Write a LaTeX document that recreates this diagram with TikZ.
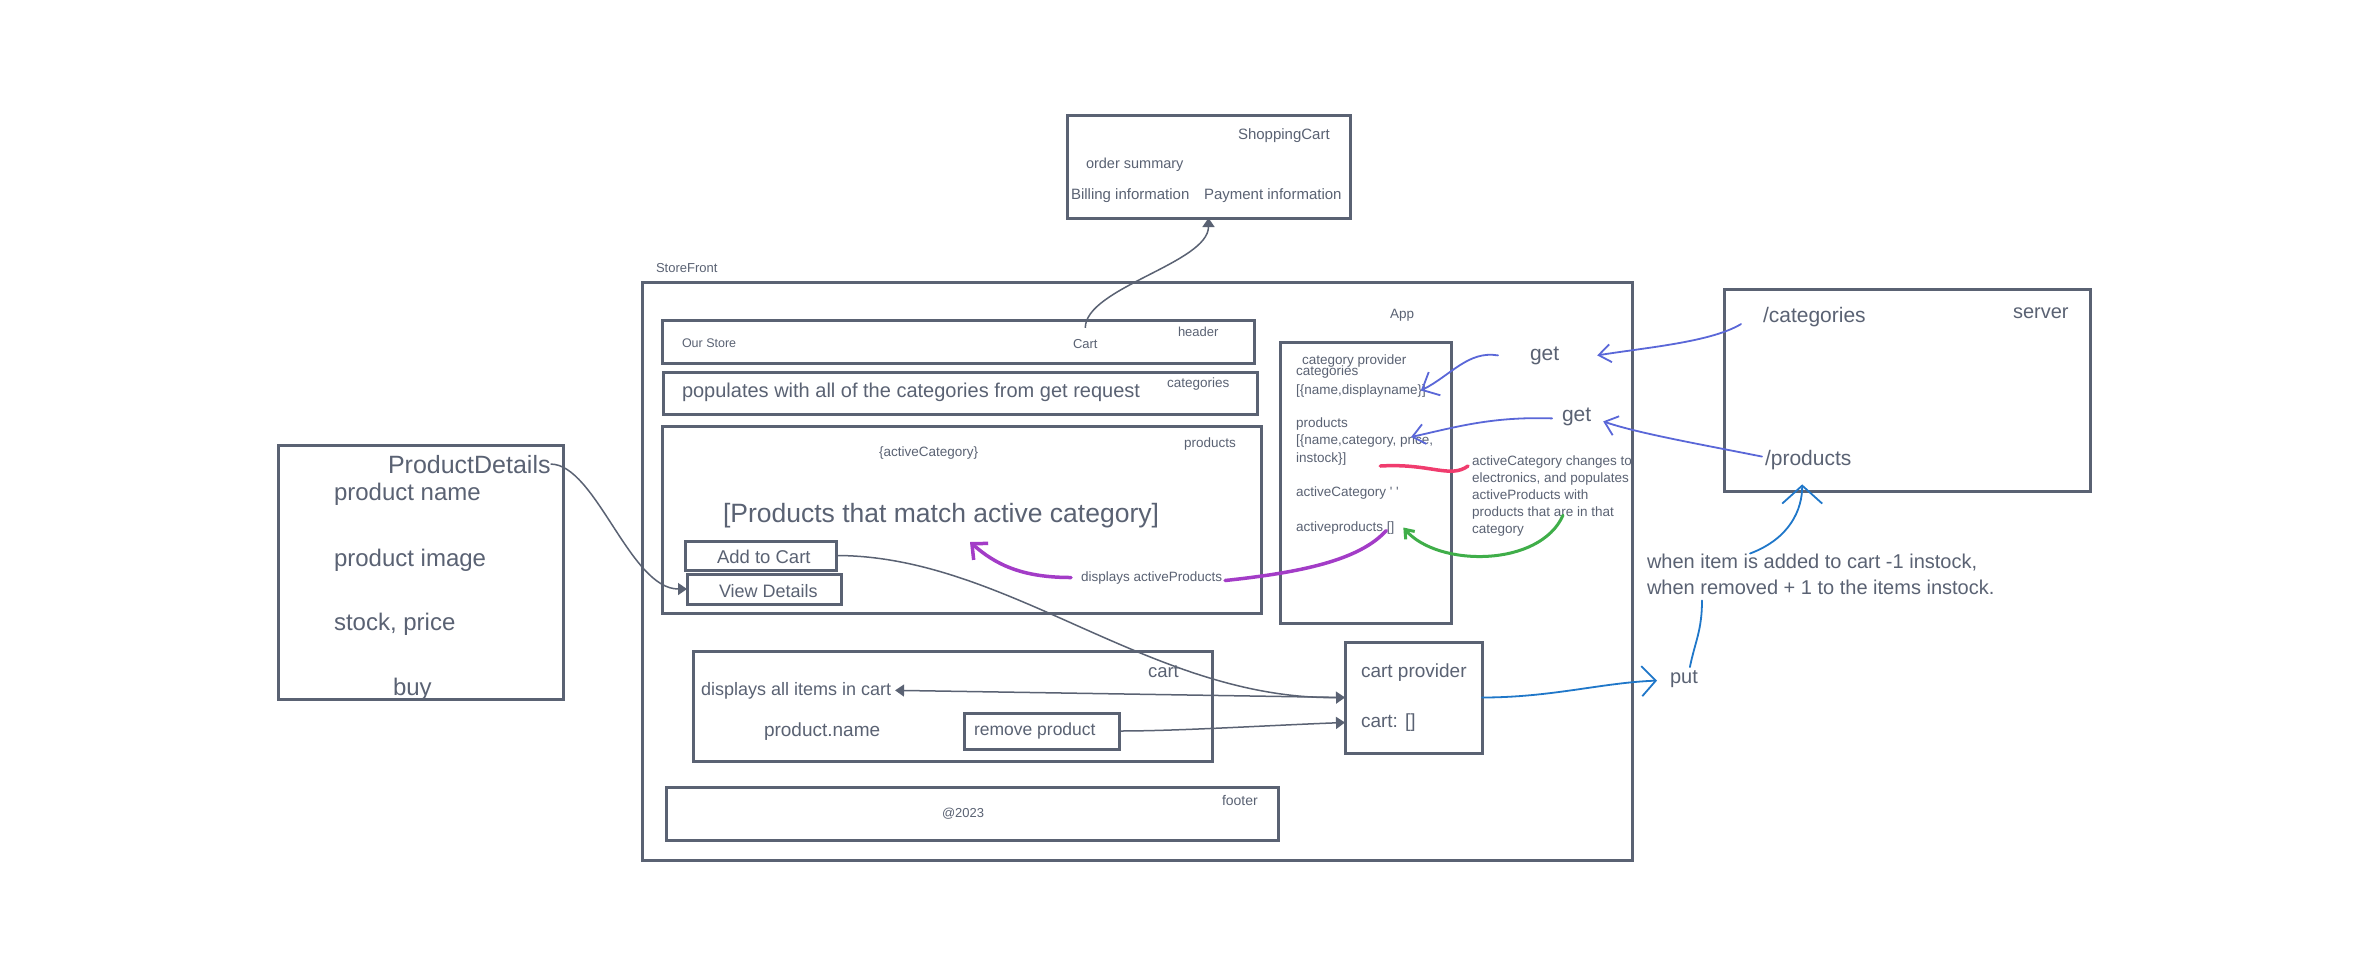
\documentclass[tikz,border=0pt]{standalone}
\usepackage{fontspec}
\setmainfont{Liberation Sans}
\usetikzlibrary{arrows.meta}
\definecolor{ink}{RGB}{90,98,115}
\definecolor{peri}{RGB}{90,103,216}
\definecolor{azure}{RGB}{31,119,201}
\definecolor{mag}{RGB}{163,60,199}
\definecolor{grn}{RGB}{63,174,73}
\definecolor{rd}{RGB}{240,60,110}
\begin{document}
\begin{tikzpicture}[x=1pt,y=-1pt,
  box/.style={draw=ink, line width=3pt, inner sep=0pt, outer sep=0pt},
  txt/.style={inner sep=0pt, outer sep=0pt, anchor=base west, text=ink, font=\fontsize{#1}{#1}\selectfont},
  txt/.default=13.5,
  conn/.style={draw=ink, line width=1.5pt},
  tri/.style={-{Triangle[length=9pt,width=12pt]}},
  hand/.style={line width=#1, line cap=round, line join=round},
]
\fill[white] (0,0) rectangle (2369,975);
\useasboundingbox (0,0) rectangle (2369,975);

% boxes
\node[box, minimum width=283pt, minimum height=103pt] (shop) at (1208.5,166.5) {};
\node[box, minimum width=990pt, minimum height=578pt] (store) at (1137,571) {};
\node[box, minimum width=592pt, minimum height=43pt] (header) at (958,341.5) {};
\node[box, minimum width=594pt, minimum height=42pt] (cats) at (960,393) {};
\node[box, minimum width=599pt, minimum height=187pt] (prods) at (961.5,519.5) {};
\node[box, minimum width=151pt, minimum height=29pt] (addcart) at (760.5,555.5) {};
\node[box, minimum width=154pt, minimum height=30pt] (viewdet) at (764,589) {};
\node[box, minimum width=171pt, minimum height=281pt] (app) at (1365.5,482.5) {};
\node[box, minimum width=366pt, minimum height=202pt] (server) at (1907,390) {};
\node[box, minimum width=285pt, minimum height=254pt] (pdet) at (420.5,572) {};
\node[box, minimum width=519pt, minimum height=110pt] (cartbox) at (952.5,706) {};
\node[box, minimum width=155pt, minimum height=36pt] (remove) at (1041.5,731) {};
\node[box, minimum width=137pt, minimum height=111pt] (cartprov) at (1413.5,697.5) {};
\node[box, minimum width=612pt, minimum height=53pt] (footer) at (972,813.5) {};

% ShoppingCart
\node[txt=15] (tshop) at (1238,139) {ShoppingCart};
\node[txt=14.5] (tord) at (1086,168) {order summary};
\node[txt=15] (tbill) at (1071,199) {Billing information};
\node[txt=15] (tpay) at (1204,199) {Payment information};

% StoreFront
\node[txt=13] (tsf) at (656,272) {StoreFront};
\node[txt=12.5] (tours) at (682,347) {Our Store};
\node[txt=13] (tcart) at (1073,348) {Cart};
\node[txt=13] (thead) at (1178,336) {header};
\node[txt=20] (tpop) at (682,397) {populates with all of the categories from get request};
\node[txt=13.5] (tcatl) at (1167,387) {categories};
\node[txt=13.5] (tac) at (879,456) {\{activeCategory\}};
\node[txt=13.5] (tprodl) at (1184,447) {products};
\node[txt=26.5] (tpm) at (723,522) {[Products that match active category]};
\node[txt=18.5] (taddc) at (717,563) {Add to Cart};
\node[txt=18] (tview) at (719,597) {View Details};
\node[txt=13.5] (tdap) at (1081,581) {displays activeProducts};

% App
\node[txt=13.5] (tapp) at (1390,318) {App};
\node[txt=13.5] (tcp) at (1302,364) {category provider};
\node[txt=13.5] (tcats2) at (1296,375) {categories};
\node[txt=13.5] (tdn) at (1296,394) {[\{name,displayname\}]};
\node[txt=13.5] (tprods2) at (1296,427) {products};
\node[txt=13.5] (tprice) at (1296,444) {[\{name,category, price,};
\node[txt=13.5] (tinst) at (1296,462) {instock\}]};
\node[txt=13.5] (tacat) at (1296,496) {activeCategory \textquotesingle\ \textquotesingle};
\node[txt=13.5] (tap) at (1296,531) {activeproducts []};
\node[inner sep=0pt, outer sep=0pt, anchor=north west, align=left, text=ink,
      font=\fontsize{13.5}{17}\selectfont] (tnote) at (1472,456)
  {activeCategory changes to\\electronics, and populates\\activeProducts with\\products that are in that\\category};

% get / server
\node[txt=21] (tget1) at (1530,360) {get};
\node[txt=21] (tget2) at (1562,421) {get};
\node[txt=21] (tscat) at (1763,322) {/categories};
\node[txt=20] (tserv) at (2013,318) {server};
\node[txt=21] (tsprod) at (1765,465) {/products};
\node[inner sep=0pt, outer sep=0pt, anchor=north west, align=left, text=ink,
      font=\fontsize{20}{26}\selectfont] (tnote2) at (1647,553.5)
  {when item is added to cart -1 instock,\\when removed + 1 to the items instock.};
\node[txt=20] (tput) at (1670,683) {put};

% ProductDetails
\node[txt=25] (tpd) at (388,473) {ProductDetails};
\node[txt=24] (tpn) at (334,500) {product name};
\node[txt=24] (tpi) at (334,566) {product image};
\node[txt=24] (tsp) at (334,630) {stock, price};
\node[txt=24] (tbuy) at (393,695) {buy};

% cart
\node[txt=18.5] (tcartl) at (1148,677) {cart};
\node[txt=18] (tdisp) at (701,695) {displays all items in cart};
\node[txt=19] (tpname) at (764,736) {product.name};
\node[txt=17.5] (trem) at (974,735) {remove product};
\node[txt=19] (tcp2) at (1361,677) {cart provider};
\node[txt=19] (tcartarr) at (1361,727) {cart: []};

% footer
\node[txt=14] (tfoot) at (1222,805) {footer};
\node[txt=13] (tcopy) at (942,817) {@2023};

% gray connectors
\draw[conn,tri] ([yshift=11pt]tcart.north) .. controls +(0,-40) and +(0,45) .. (shop.south);
\draw[conn,tri] (tpd.east) .. controls +(45,0) and +(-57,0) .. (viewdet.west);
\draw[conn,tri] (addcart.east) .. controls +(172,0) and +(-195,2) .. (cartprov.west);
\draw[conn,tri] (cartprov.west) -- ([xshift=4pt]tdisp.east);
\draw[conn,tri] (remove.east) .. controls +(60,0) and +(-80,3) .. ([yshift=-25pt]cartprov.west);

% periwinkle hand arrows
\draw[hand=1.8pt, peri, -{Straight Barb[length=12pt,width=18pt]}]
  ([xshift=-22pt,yshift=-7.5pt]tscat.west) .. controls +(-30,18) and +(50,-8) .. ([xshift=38pt]tget1.east);
\draw[hand=1.8pt, peri, -{Straight Barb[length=12pt,width=20pt]}]
  ([xshift=-3pt,yshift=3pt]tsprod.west) .. controls +(-60,-12) and +(35,12) .. ([xshift=12pt,yshift=-5pt]tget2.east);
\draw[hand=1.8pt, peri, -{Straight Barb[length=14pt,width=26pt]}]
  ([xshift=-32pt]tget1.west) .. controls +(-30,-5) and +(30,-15) .. ([xshift=-5pt]tdn.east);
\draw[hand=1.8pt, peri, -{Straight Barb[length=12pt,width=20pt]}]
  ([xshift=-10pt,yshift=-2pt]tget2.west) .. controls +(-60,-2) and +(45,-10) .. ([xshift=-22pt,yshift=3.5pt]tprice.east);

% magenta
\draw[hand=3.5pt, mag, -{Straight Barb[length=12pt,width=22pt]}]
  ([xshift=-10pt]tdap.west) .. controls +(-50,0) and +(25,22) .. ([xshift=29pt,yshift=-14.5pt]tpm.south);
\draw[hand=3.5pt, mag]
  ([xshift=3pt,yshift=-3pt]tdap.east) .. controls +(75,-8) and +(-27,30) .. ([xshift=-8pt,yshift=-3pt]tap.east);

% green
\draw[hand=3pt, grn, -{Straight Barb[length=8pt,width=12pt]}]
  ([xshift=91pt,yshift=-19pt]tnote.west) .. controls +(-23,52) and +(35,40) .. ([xshift=9pt]tap.east);

% red
\draw[hand=3.5pt, rd]
  ([xshift=34pt,yshift=-7.5pt]tinst.east) .. controls +(50,-3) and +(-18,13) .. ([xshift=-4pt,yshift=-10pt]tnote.north west);

% azure
\draw[hand=1.8pt, azure, -{Straight Barb[length=18pt,width=40pt]}]
  ([xshift=103pt]tnote2.north west) .. controls +(40,-15) and +(0,25) .. ([xshift=-6pt,yshift=-15pt]tsprod.south);
\draw[hand=1.8pt, azure]
  ([xshift=55pt,yshift=-47pt]tnote2.north west) .. controls +(0,30) and +(5,-25) .. ([xshift=6pt,yshift=3pt]tput.north);
\draw[hand=1.8pt, azure, -{Straight Barb[length=14pt,width=30pt]}]
  (cartprov.east) .. controls +(70,0) and +(-55,2) .. ([xshift=-13pt,yshift=-2pt]tput.west);
\end{tikzpicture}
\end{document}
